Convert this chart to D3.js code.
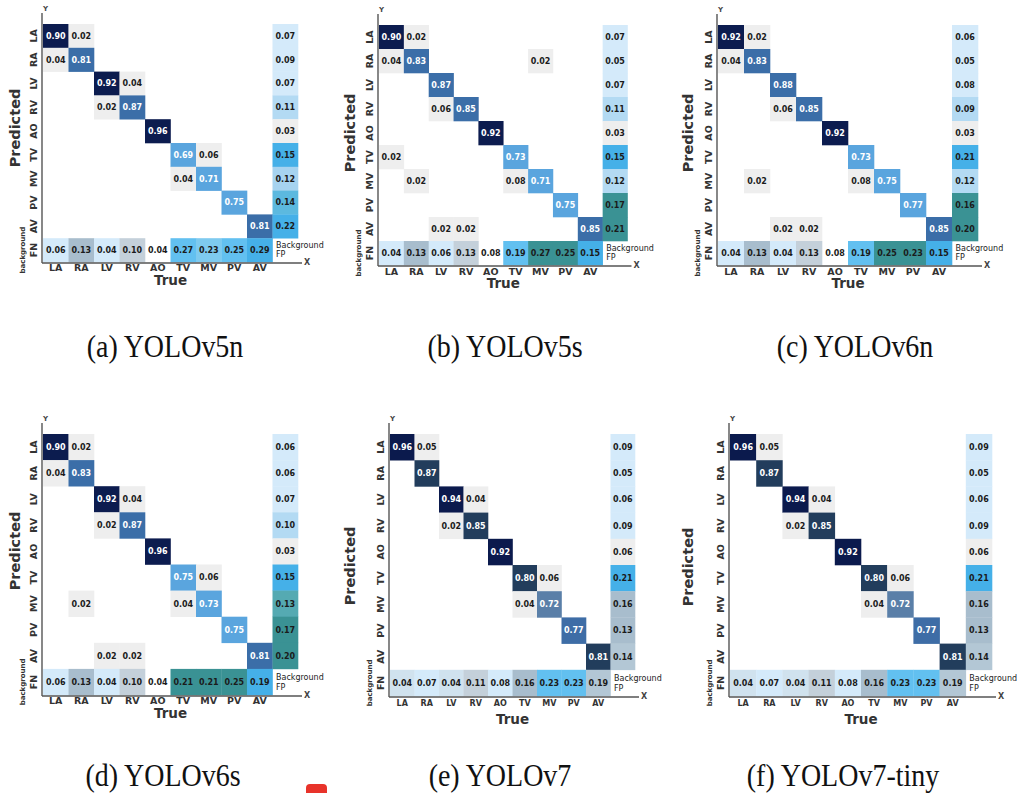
<!DOCTYPE html>
<html>
<head>
<meta charset="utf-8">
<script src="https://cdn.jsdelivr.net/npm/d3@7"></script>
<style>
  body { margin: 0; background: #fff; }
</style>
</head>
<body>
<div id="chart"></div>
<script>
"use strict";

// classes on both axes (rows = predicted, columns = true)
const classes = ["LA", "RA", "LV", "RV", "AO", "TV", "MV", "PV", "AV"];
const captions = ["(a) YOLOv5n", "(b) YOLOv5s", "(c) YOLOv6n", "(d) YOLOv6s", "(e) YOLOv7", "(f) YOLOv7-tiny"];

// last column = background FP, last row = background FN
const cmV5n = [
  [0.90, 0.02, 0, 0, 0, 0, 0, 0, 0, 0.07],
  [0.04, 0.81, 0, 0, 0, 0, 0, 0, 0, 0.09],
  [0, 0, 0.92, 0.04, 0, 0, 0, 0, 0, 0.07],
  [0, 0, 0.02, 0.87, 0, 0, 0, 0, 0, 0.11],
  [0, 0, 0, 0, 0.96, 0, 0, 0, 0, 0.03],
  [0, 0, 0, 0, 0, 0.69, 0.06, 0, 0, 0.15],
  [0, 0, 0, 0, 0, 0.04, 0.71, 0, 0, 0.12],
  [0, 0, 0, 0, 0, 0, 0, 0.75, 0, 0.14],
  [0, 0, 0, 0, 0, 0, 0, 0, 0.81, 0.22],
  [0.06, 0.13, 0.04, 0.10, 0.04, 0.27, 0.23, 0.25, 0.29, 0]
];
const cmV5s = [
  [0.90, 0.02, 0, 0, 0, 0, 0, 0, 0, 0.07],
  [0.04, 0.83, 0, 0, 0, 0, 0.02, 0, 0, 0.05],
  [0, 0, 0.87, 0, 0, 0, 0, 0, 0, 0.07],
  [0, 0, 0.06, 0.85, 0, 0, 0, 0, 0, 0.11],
  [0, 0, 0, 0, 0.92, 0, 0, 0, 0, 0.03],
  [0.02, 0, 0, 0, 0, 0.73, 0, 0, 0, 0.15],
  [0, 0.02, 0, 0, 0, 0.08, 0.71, 0, 0, 0.12],
  [0, 0, 0, 0, 0, 0, 0, 0.75, 0, 0.17],
  [0, 0, 0.02, 0.02, 0, 0, 0, 0, 0.85, 0.21],
  [0.04, 0.13, 0.06, 0.13, 0.08, 0.19, 0.27, 0.25, 0.15, 0]
];
const cmV6n = [
  [0.92, 0.02, 0, 0, 0, 0, 0, 0, 0, 0.06],
  [0.04, 0.83, 0, 0, 0, 0, 0, 0, 0, 0.05],
  [0, 0, 0.88, 0, 0, 0, 0, 0, 0, 0.08],
  [0, 0, 0.06, 0.85, 0, 0, 0, 0, 0, 0.09],
  [0, 0, 0, 0, 0.92, 0, 0, 0, 0, 0.03],
  [0, 0, 0, 0, 0, 0.73, 0, 0, 0, 0.21],
  [0, 0.02, 0, 0, 0, 0.08, 0.75, 0, 0, 0.12],
  [0, 0, 0, 0, 0, 0, 0, 0.77, 0, 0.16],
  [0, 0, 0.02, 0.02, 0, 0, 0, 0, 0.85, 0.20],
  [0.04, 0.13, 0.04, 0.13, 0.08, 0.19, 0.25, 0.23, 0.15, 0]
];
const cmV6s = [
  [0.90, 0.02, 0, 0, 0, 0, 0, 0, 0, 0.06],
  [0.04, 0.83, 0, 0, 0, 0, 0, 0, 0, 0.06],
  [0, 0, 0.92, 0.04, 0, 0, 0, 0, 0, 0.07],
  [0, 0, 0.02, 0.87, 0, 0, 0, 0, 0, 0.10],
  [0, 0, 0, 0, 0.96, 0, 0, 0, 0, 0.03],
  [0, 0, 0, 0, 0, 0.75, 0.06, 0, 0, 0.15],
  [0, 0.02, 0, 0, 0, 0.04, 0.73, 0, 0, 0.13],
  [0, 0, 0, 0, 0, 0, 0, 0.75, 0, 0.17],
  [0, 0, 0.02, 0.02, 0, 0, 0, 0, 0.81, 0.20],
  [0.06, 0.13, 0.04, 0.10, 0.04, 0.21, 0.21, 0.25, 0.19, 0]
];
const cmV7 = [
  [0.96, 0.05, 0, 0, 0, 0, 0, 0, 0, 0.09],
  [0, 0.87, 0, 0, 0, 0, 0, 0, 0, 0.05],
  [0, 0, 0.94, 0.04, 0, 0, 0, 0, 0, 0.06],
  [0, 0, 0.02, 0.85, 0, 0, 0, 0, 0, 0.09],
  [0, 0, 0, 0, 0.92, 0, 0, 0, 0, 0.06],
  [0, 0, 0, 0, 0, 0.80, 0.06, 0, 0, 0.21],
  [0, 0, 0, 0, 0, 0.04, 0.72, 0, 0, 0.16],
  [0, 0, 0, 0, 0, 0, 0, 0.77, 0, 0.13],
  [0, 0, 0, 0, 0, 0, 0, 0, 0.81, 0.14],
  [0.04, 0.07, 0.04, 0.11, 0.08, 0.16, 0.23, 0.23, 0.19, 0]
];
const cmV7tiny = [
  [0.96, 0.05, 0, 0, 0, 0, 0, 0, 0, 0.09],
  [0, 0.87, 0, 0, 0, 0, 0, 0, 0, 0.05],
  [0, 0, 0.94, 0.04, 0, 0, 0, 0, 0, 0.06],
  [0, 0, 0.02, 0.85, 0, 0, 0, 0, 0, 0.09],
  [0, 0, 0, 0, 0.92, 0, 0, 0, 0, 0.06],
  [0, 0, 0, 0, 0, 0.80, 0.06, 0, 0, 0.21],
  [0, 0, 0, 0, 0, 0.04, 0.72, 0, 0, 0.16],
  [0, 0, 0, 0, 0, 0, 0, 0.77, 0, 0.13],
  [0, 0, 0, 0, 0, 0, 0, 0, 0.81, 0.14],
  [0.04, 0.07, 0.04, 0.11, 0.08, 0.16, 0.23, 0.23, 0.19, 0]
];
const matrices = [cmV5n, cmV5s, cmV6n, cmV6s, cmV7, cmV7tiny];

// ---- styling ----
const tone = {
  L: "#d4eafa", M: "#b3daf3", K: "#a6d3f0", B: "#45b0e8", V: "#62c0f0",
  S: "#7ecaef", C: "#5cb9df", G: "#eeeeee", W: "none", R: "#a8bdcd",
  P: "#c4d0da", T: "#3a9294", U: "#55aab2", Q: "#b3c7d5", N: "#d0e2ee"
};
// shading of the FP column (by row) and FN row (by column) as drawn in each panel
const fpTones = ["LLLMGBKCB", "LLLMGBMTT", "LLLMGBMTT", "LLLMGBUTT", "LLLLGBRRQ", "LLLLGBRRQ"];
const fnTones = ["LRLPWVSVB", "LRLPWVTTB", "LRLPWVTTB", "LRLPWTTTB", "NLNPLRVVQ", "NLNPLRVVQ"];

const blueDiag = d3.scaleThreshold().domain([0.79, 0.9]).range(["#5aa5de", "#3b6ea8", "#0c1c4f"]);
const slateDiag = d3.scaleThreshold().domain([0.75, 0.79, 0.9]).range(["#5a7fa8", "#3e6da6", "#223d5c", "#0b1a4d"]);

const layout = [
  { x: 43, y: 24, cw: 25.5, ch: 23.8, diag: blueDiag, colFs: 9.5, colPad: 2, trueDy: 23, px: 15, py: 128, cx: 165, cy: 357 },
  { x: 379, y: 25, cw: 24.85, ch: 24, diag: blueDiag, colFs: 9.5, colPad: 3, trueDy: 23, px: 350, py: 133, cx: 505, cy: 357 },
  { x: 718, y: 25, cw: 26, ch: 24, diag: blueDiag, colFs: 9.5, colPad: 3, trueDy: 23, px: 688, py: 133, cx: 855, cy: 357 },
  { x: 43, y: 434, cw: 25.5, ch: 26.1, diag: blueDiag, colFs: 9.5, colPad: 2, trueDy: 23, px: 15, py: 551, cx: 163, cy: 786 },
  { x: 390, y: 434, cw: 24.5, ch: 26.2, diag: slateDiag, colFs: 8, colPad: 4, trueDy: 28, px: 350, py: 566, cx: 500, cy: 786 },
  { x: 730, y: 434, cw: 26.2, ch: 26.2, diag: slateDiag, colFs: 8, colPad: 4, trueDy: 28, px: 688, py: 567, cx: 843, cy: 786 }
];

const W = 1021, H = 793;
const sans = "DejaVu Sans, Verdana, sans-serif";
const fmt = d3.format(".2f");

const svg = d3.select("#chart").append("svg")
  .attr("width", W).attr("height", H)
  .style("font-family", sans);

function drawPanel(matrix, p, k) {
  const cols = [...classes, "FP"];
  const rows = [...classes, "FN"];
  const x = d3.scaleBand().domain(cols).range([p.x, p.x + 10 * p.cw]);
  const y = d3.scaleBand().domain(rows).range([p.y, p.y + 10 * p.ch]);
  const bottom = p.y + 10 * p.ch;
  const g = svg.append("g");

  const cells = [];
  matrix.forEach((row, r) => row.forEach((v, c) => {
    if (v > 0) cells.push({ r, c, v });
  }));

  const fill = d => {
    if (d.r < 9 && d.c < 9) return d.r === d.c ? p.diag(d.v) : "#eeeeee";
    if (d.c === 9) return tone[fpTones[k][d.r]];
    return tone[fnTones[k][d.c]];
  };

  g.selectAll("rect.cell")
    .data(cells)
    .enter()
    .append("rect")
    .attr("class", "cell")
    .attr("x", d => x(cols[d.c]))
    .attr("y", d => y(rows[d.r]))
    .attr("width", x.bandwidth() + 0.3)
    .attr("height", y.bandwidth() + 0.3)
    .attr("fill", fill);

  g.selectAll("text.val")
    .data(cells)
    .enter()
    .append("text")
    .attr("class", "val")
    .attr("x", d => x(cols[d.c]) + x.bandwidth() / 2)
    .attr("y", d => y(rows[d.r]) + y.bandwidth() / 2)
    .attr("dy", "0.36em")
    .attr("text-anchor", "middle")
    .attr("font-size", "8px")
    .attr("font-weight", "bold")
    .attr("fill", d => (d.r === d.c && d.r < 9) ? "#ffffff" : "#1b1b1b")
    .text(d => fmt(d.v));

  // label in the empty FN/FP corner cell
  const bx = x("FP") + 3.5, by = y("FN");
  g.append("text").attr("x", bx).attr("y", by + y.bandwidth() * 0.42)
    .attr("font-size", "8px").attr("fill", "#222").text("Background");
  g.append("text").attr("x", bx).attr("y", by + y.bandwidth() * 0.8)
    .attr("font-size", "8px").attr("fill", "#222").text("FP");

  // axes lines
  const ax = p.x - 1;
  g.append("line").attr("x1", ax).attr("x2", ax).attr("y1", p.y - 11).attr("y2", bottom + 1)
    .attr("stroke", "#555").attr("stroke-width", 1.4);
  g.append("line").attr("x1", ax).attr("x2", p.x + 10 * p.cw + 4).attr("y1", bottom + 1).attr("y2", bottom + 1)
    .attr("stroke", "#555").attr("stroke-width", 1.4);
  g.append("text").attr("x", ax + 1).attr("y", p.y - 13)
    .attr("font-size", "7px").attr("font-weight", "bold").attr("fill", "#444").text("Y");
  g.append("text").attr("x", p.x + 10 * p.cw + 6).attr("y", bottom + 3)
    .attr("font-size", "8px").attr("font-weight", "bold").attr("fill", "#444").text("X");

  // column tick labels
  const xAxis = d3.axisBottom(x).tickValues(classes).tickSize(0).tickPadding(p.colPad);
  const gx = g.append("g").attr("transform", `translate(0,${bottom})`).call(xAxis);
  gx.select(".domain").remove();
  gx.selectAll("text")
    .attr("font-family", sans)
    .attr("font-size", p.colFs + "px")
    .attr("font-weight", "bold")
    .attr("fill", "#333");

  // row tick labels, rotated
  const yAxis = d3.axisLeft(y).tickSize(0);
  const gy = g.append("g").attr("transform", `translate(${p.x},0)`).call(yAxis);
  gy.select(".domain").remove();
  gy.selectAll("text")
    .attr("x", 0)
    .attr("dy", "0.36em")
    .attr("text-anchor", "middle")
    .attr("transform", "translate(-9.5,0) rotate(-90)")
    .attr("font-family", sans)
    .attr("font-size", "9.5px")
    .attr("font-weight", "bold")
    .attr("fill", "#333");

  g.append("text")
    .attr("transform", `translate(${p.x - 21},${y("FN") + y.bandwidth() / 2}) rotate(-90)`)
    .attr("dy", "0.36em")
    .attr("text-anchor", "middle")
    .attr("font-size", "7px")
    .attr("font-weight", "bold")
    .attr("fill", "#333")
    .text("background");

  g.append("text")
    .attr("transform", `translate(${p.px},${p.py}) rotate(-90)`)
    .attr("dy", "0.36em")
    .attr("text-anchor", "middle")
    .attr("font-size", "14.5px")
    .attr("font-weight", "bold")
    .attr("fill", "#333")
    .text("Predicted");

  g.append("text")
    .attr("x", p.x + 5 * p.cw)
    .attr("y", bottom + p.trueDy)
    .attr("text-anchor", "middle")
    .attr("font-size", "13.5px")
    .attr("font-weight", "bold")
    .attr("fill", "#333")
    .text("True");

  svg.append("text")
    .attr("transform", `translate(${p.cx},${p.cy}) scale(1,1.15)`)
    .attr("text-anchor", "middle")
    .attr("font-family", "Liberation Serif, Times New Roman, serif")
    .attr("font-size", "28px")
    .attr("fill", "#111")
    .text(captions[k]);
}

matrices.forEach((m, k) => drawPanel(m, layout[k], k));

// small red marker at the bottom edge of the page
svg.append("rect")
  .attr("x", 306).attr("y", 784).attr("width", 21).attr("height", 14).attr("rx", 4)
  .attr("fill", "#e8332a");
</script>
</body>
</html>
